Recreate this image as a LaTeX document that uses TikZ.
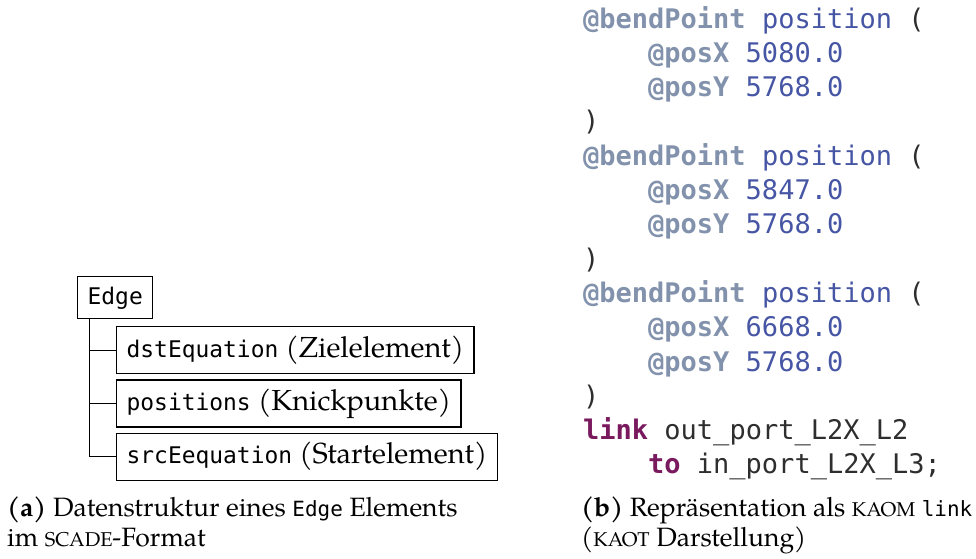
\documentclass[tikz,border=0pt]{standalone}
\usepackage{fontspec}
\setmainfont{TeX Gyre Pagella}
\setmonofont{DejaVu Sans Mono}[Scale=0.79]
\newfontfamily\codefont{DejaVu Sans Mono}
\usetikzlibrary{positioning}

\definecolor{annocol}{HTML}{8292AC}
\definecolor{valcol}{HTML}{4656A4}
\definecolor{kwcol}{HTML}{7A1A5E}
\definecolor{txtcol}{HTML}{2E2E2E}

\newcommand{\anno}[1]{\textbf{\color{annocol}#1}}
\newcommand{\val}[1]{{\color{valcol}#1}}
\newcommand{\kw}[1]{\textbf{\color{kwcol}#1}}
\newcommand{\capsc}[1]{{\fontsize{20}{30.5}\selectfont #1}}

\tikzset{
	fieldbox/.style = {draw, line width = 1.3pt, anchor = north west, inner xsep = 10pt,
		inner ysep = 11.5pt, text height = 19pt, text depth = 5pt,
		font = \fontsize{29}{35}\selectfont},
	headbox/.style = {fieldbox, inner ysep = 10.5pt, text height = 17pt, text depth = 4pt},
	branch/.style = {line width = 1pt},
	codeline/.style = {anchor = base west, inner sep = 0pt, text = txtcol,
		font = \codefont\fontsize{27}{34}\selectfont},
	caption/.style = {anchor = base west, inner sep = 0pt,
		font = \fontsize{26.5}{30.5}\selectfont}
}

\begin{document}
\begin{tikzpicture}[x = 1pt, y = -1pt]
	\useasboundingbox (0,0) rectangle (976,558);

	% (a) Edge structure
	\node[headbox] (edge) at (77,276) {\texttt{Edge}};
	\node[fieldbox] (dst) at (116,326) {\texttt{dstEquation} (Zielelement)};
	\node[fieldbox] (pos) at ([yshift = -5pt]dst.south west) {\texttt{positions} (Knickpunkte)};
	\node[fieldbox] (src) at ([yshift = -5pt]pos.south west) {\texttt{srcEequation} (Startelement)};
	\coordinate (trunk) at ([xshift = 12pt]edge.south west);
	\draw[branch] (trunk) |- (dst.west)
		(trunk) |- (pos.west)
		(trunk) |- (src.west);

	% (b) KAOM code
	\node[codeline] (c1) at (583,28) {\anno{@bendPoint} \val{position} (};
	\node[codeline] (c2) at (648,62.3) {\anno{@posX} \val{5080.0}};
	\node[codeline] (c3) at (648,96.6) {\anno{@posY} \val{5768.0}};
	\node[codeline] (c4) at (583,130.9) {)};
	\node[codeline] (c5) at (583,165.2) {\anno{@bendPoint} \val{position} (};
	\node[codeline] (c6) at (648,199.5) {\anno{@posX} \val{5847.0}};
	\node[codeline] (c7) at (648,233.8) {\anno{@posY} \val{5768.0}};
	\node[codeline] (c8) at (583,268.1) {)};
	\node[codeline] (c9) at (583,302.4) {\anno{@bendPoint} \val{position} (};
	\node[codeline] (c10) at (648,336.7) {\anno{@posX} \val{6668.0}};
	\node[codeline] (c11) at (648,371) {\anno{@posY} \val{5768.0}};
	\node[codeline] (c12) at (583,405.3) {)};
	\node[codeline] (c13) at (583,439.6) {\kw{link} out\_port\_L2X\_L2};
	\node[codeline] (c14) at (648,473.9) {\kw{to} in\_port\_L2X\_L3;};

	% captions
	\node[caption] (capa) at (7,516) {\textbf{(a)} Datenstruktur eines \texttt{Edge} Elements};
	\node[caption] (capa2) at (7,546.5) {im \capsc{SCADE}-Format};
	\node[caption] (capb) at (581,516) {\textbf{(b)} Repräsentation als \capsc{KAOM} \texttt{link}};
	\node[caption] (capb2) at (581,546.5) {(\capsc{KAOT} Darstellung)};
\end{tikzpicture}
\end{document}
